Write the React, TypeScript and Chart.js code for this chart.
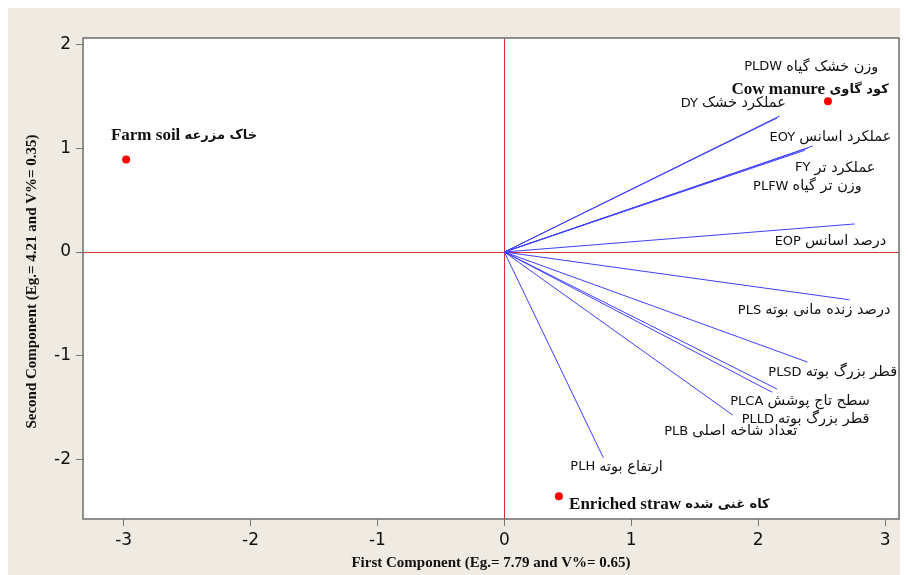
import React, { useEffect, useRef } from "react";
import { Chart, registerables } from "chart.js";

Chart.register(...registerables);

// Variable vectors (loadings)
const variableCodes = ["PLDW", "DY", "EOY", "FY", "PLFW", "EOP", "PLS", "PLSD", "PLCA", "PLLD", "PLB", "PLH"];
const variablePersian = [
  "وزن خشک گیاه",
  "عملکرد خشک",
  "عملکرد اسانس",
  "عملکرد تر",
  "وزن تر گیاه",
  "درصد اسانس",
  "درصد زنده مانی بوته",
  "قطر بزرگ بوته",
  "سطح تاج پوشش",
  "قطر بزرگ بوته",
  "تعداد شاخه اصلی",
  "ارتفاع بوته",
];
const variablePC1 = [2.17, 2.15, 2.43, 2.39, 2.37, 2.76, 2.72, 2.39, 2.15, 2.11, 1.8, 0.78];
const variablePC2 = [1.31, 1.29, 1.02, 1.0, 0.98, 0.27, -0.46, -1.06, -1.32, -1.35, -1.57, -1.98];
const variableLabelX = [1.89, 1.39, 2.09, 2.29, 1.96, 2.13, 1.84, 2.08, 1.78, 1.87, 1.26, 0.52];
const variableLabelY = [1.78, 1.43, 1.1, 0.81, 0.63, 0.1, -0.56, -1.16, -1.44, -1.61, -1.73, -2.07];

// Treatment scores
const treatmentEnglish = ["Farm soil", "Cow manure", "Enriched straw"];
const treatmentPersian = ["خاک مزرعه", "کود گاوی", "کاه غنی شده"];
const treatmentPC1 = [-2.98, 2.55, 0.43];
const treatmentPC2 = [0.89, 1.45, -2.35];
const treatmentLabelX = [-3.1, 1.79, 0.51];
const treatmentLabelY = [1.12, 1.56, -2.43];

const xTicks = [-3, -2, -1, 0, 1, 2, 3];
const yTicks = [-2, -1, 0, 1, 2];
const xRange = [-3.32, 3.11];
const yRange = [-2.57, 2.06];

const xTitle = "First Component (Eg.= 7.79 and V%= 0.65)";
const yTitle = "Second Component (Eg.= 4.21 and V%= 0.35)";

function drawMixed(ctx: any, en: string, fa: string, x: number, y: number, enFont: string, faFont: string) {
  ctx.font = enFont;
  ctx.fillText(en, x, y);
  const w = ctx.measureText(en + " ").width;
  ctx.font = faFont;
  ctx.fillText(fa, x + w, y);
}

const decorPlugin = {
  id: "decor",
  beforeDraw(chart: any) {
    const { ctx, chartArea: a } = chart;
    ctx.save();
    ctx.fillStyle = "#ffffff";
    ctx.fillRect(a.left, a.top, a.right - a.left, a.bottom - a.top);
    ctx.restore();
  },
  beforeDatasetsDraw(chart: any) {
    const { ctx, chartArea: a, scales } = chart;
    const x0 = Math.round(scales.x.getPixelForValue(0)) + 0.5;
    const y0 = Math.round(scales.y.getPixelForValue(0)) + 0.5;
    ctx.save();
    ctx.strokeStyle = "#d83030";
    ctx.lineWidth = 1;
    ctx.beginPath();
    ctx.moveTo(x0, a.top);
    ctx.lineTo(x0, a.bottom);
    ctx.moveTo(a.left, y0);
    ctx.lineTo(a.right, y0);
    ctx.stroke();
    ctx.restore();
  },
  afterDraw(chart: any) {
    const { ctx, chartArea: a, scales } = chart;
    ctx.save();
    // frame
    ctx.strokeStyle = "#6e6e6e";
    ctx.lineWidth = 1.5;
    ctx.strokeRect(a.left, a.top, a.right - a.left, a.bottom - a.top);

    ctx.direction = "ltr";
    ctx.textAlign = "left";
    ctx.textBaseline = "middle";
    ctx.fillStyle = "#111111";
    // variable labels
    for (let i = 0; i < variableCodes.length; i++) {
      const px = scales.x.getPixelForValue(variableLabelX[i]);
      const py = scales.y.getPixelForValue(variableLabelY[i]);
      drawMixed(ctx, variableCodes[i], variablePersian[i], px, py, "13px 'DejaVu Sans'", "14.5px 'DejaVu Sans'");
    }
    // treatment labels
    for (let i = 0; i < treatmentEnglish.length; i++) {
      const px = scales.x.getPixelForValue(treatmentLabelX[i]);
      const py = scales.y.getPixelForValue(treatmentLabelY[i]);
      drawMixed(
        ctx,
        treatmentEnglish[i],
        treatmentPersian[i],
        px,
        py,
        "bold 17px 'Liberation Serif'",
        "bold 13px 'DejaVu Sans'"
      );
    }
    // axis titles
    ctx.font = "bold 15px 'Liberation Serif'";
    ctx.textAlign = "center";
    ctx.fillText(xTitle, (a.left + a.right) / 2, 555);
    ctx.translate(24, (a.top + a.bottom) / 2 + 3);
    ctx.rotate(-Math.PI / 2);
    ctx.fillText(yTitle, 0, 0);
    ctx.restore();
  },
};

export default function App() {
  const ref = useRef<HTMLCanvasElement | null>(null);

  useEffect(() => {
    document.body.style.overflow = "hidden";
    const canvas = ref.current;
    if (!canvas) return;

    const vectorSets = variableCodes.map((code, i) => ({
      type: "line" as const,
      label: code,
      data: [
        { x: 0, y: 0 },
        { x: variablePC1[i], y: variablePC2[i] },
      ],
      borderColor: "#4040ff",
      borderWidth: 1,
      pointRadius: 0,
      showLine: true,
      fill: false,
    }));

    const scoreSet = {
      type: "scatter" as const,
      label: "Treatments",
      data: treatmentPC1.map((v, i) => ({ x: v, y: treatmentPC2[i] })),
      backgroundColor: "#ff0000",
      borderColor: "#ff0000",
      borderWidth: 0,
      pointRadius: 4,
    };

    const tickFont = { family: "'DejaVu Sans'", size: 17 };

    const chart = new Chart(canvas, {
      type: "scatter",
      data: { datasets: [...vectorSets, scoreSet] as any },
      options: {
        animation: false,
        responsive: false,
        layout: { padding: { top: 30, right: 9, left: 0, bottom: 0 } },
        plugins: {
          legend: { display: false },
          tooltip: { enabled: false },
        },
        scales: {
          x: {
            type: "linear",
            min: xRange[0],
            max: xRange[1],
            afterFit: (s: any) => {
              s.height = 56;
            },
            afterBuildTicks: (s: any) => {
              s.ticks = xTicks.map((v) => ({ value: v }));
            },
            ticks: { font: tickFont, color: "#111", padding: 4, maxRotation: 0 },
            grid: { drawOnChartArea: false, drawTicks: true, tickLength: 7, color: "#777" },
            border: { display: false },
          },
          y: {
            type: "linear",
            min: yRange[0],
            max: yRange[1],
            afterFit: (s: any) => {
              s.width = 75;
            },
            afterBuildTicks: (s: any) => {
              s.ticks = yTicks.map((v) => ({ value: v }));
            },
            ticks: { font: tickFont, color: "#111", padding: 5 },
            grid: { drawOnChartArea: false, drawTicks: true, tickLength: 7, color: "#777" },
            border: { display: false },
          },
        },
      } as any,
      plugins: [decorPlugin],
    });

    return () => chart.destroy();
  }, []);

  return (
    <div style={{ width: 900, height: 567, background: "#efebe2" }}>
      <canvas ref={ref} width={900} height={567} style={{ display: "block", width: 900, height: 567 }} />
    </div>
  );
}
